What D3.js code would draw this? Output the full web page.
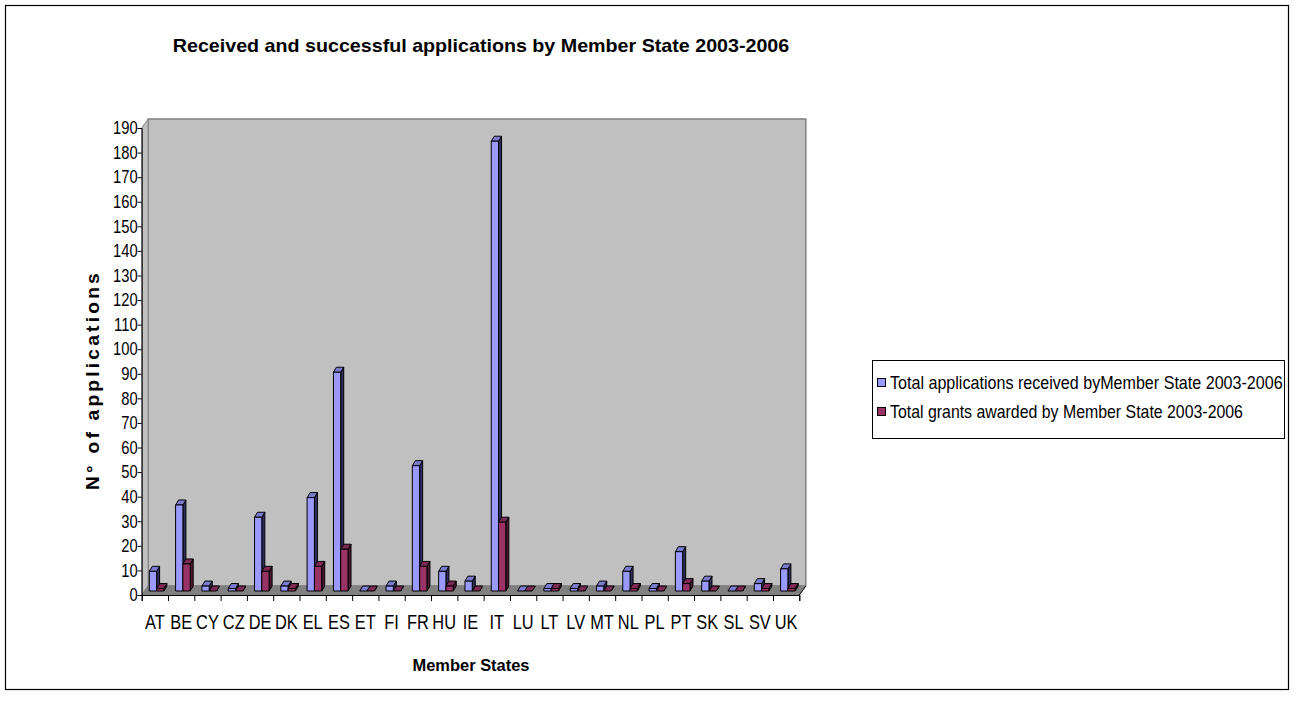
<!DOCTYPE html>
<html>
<head>
<meta charset="utf-8">
<script src="https://cdn.jsdelivr.net/npm/d3@7"></script>
<style>
  body { margin: 0; background: #fff; }
  svg text { font-family: "Liberation Sans", Arial, sans-serif; }
</style>
</head>
<body>
<script>
// ------------------------------------------------------------------
// data
var states   = ["AT","BE","CY","CZ","DE","DK","EL","ES","ET","FI","FR","HU","IE",
                "IT","LU","LT","LV","MT","NL","PL","PT","SK","SL","SV","UK"];
var received = [8, 35, 2, 1, 30, 2, 38, 89, 0, 2, 51, 8, 4,
                183, 0, 1, 1, 2, 8, 1, 16, 4, 0, 3, 9];
var awarded  = [1, 11, 0, 0, 8, 1, 10, 17, 0, 0, 10, 2, 0,
                28, 0, 1, 0, 0, 1, 0, 3, 0, 0, 1, 1];
var yTicks   = d3.range(0, 191, 10);
var seriesNames = ["Total applications received byMember State 2003-2006",
                   "Total grants awarded by Member State 2003-2006"];
// ------------------------------------------------------------------

var W = 1296, H = 711;
var depthX = 6.5, depthY = 9;      // depth of the 3d box
var barDx = 3, barDy = 5;          // depth of each column
var narrow = 0.82;                 // fake "Arial Narrow"

var svg = d3.select("body").append("svg")
    .attr("width", W).attr("height", H);

// text squeezed horizontally, optionally to a given width
function label(x, y, txt, size, bold, anchor, width) {
  var t = svg.append("text")
      .attr("text-anchor", anchor || "start")
      .style("font-size", size + "px")
      .style("font-weight", bold ? "bold" : "normal")
      .text(txt);
  var s = narrow;
  if (width) s = width / t.node().getComputedTextLength();
  t.attr("transform", "translate(" + x + "," + y + ") scale(" + s + ",1)");
  return t;
}

svg.append("rect").attr("x", 5.5).attr("y", 5.5)
    .attr("width", 1283).attr("height", 684)
    .attr("fill", "#fff").attr("stroke", "#000").attr("stroke-width", 1.2);

label(481, 52, "Received and successful applications by Member State 2003-2006", 19, true, "middle", 617);

var plotL = 141.7, plotR = 799.3, plotB = 595, plotT = 128;

var x = d3.scaleBand().domain(states).range([plotL, plotR]);
var y = d3.scaleLinear().domain([0, 190]).range([plotB, plotT]);
var xb = d3.scaleLinear().domain([0, states.length]).range([plotL, plotR]);

// walls and floor
var wallTop = y(190) - depthY;
svg.append("polygon")
    .attr("points", [[plotL + depthX, wallTop], [plotR + depthX, wallTop],
                     [plotR + depthX, plotB - depthY], [plotL + depthX, plotB - depthY]].join(" "))
    .attr("fill", "#c0c0c0").attr("stroke", "#808080").attr("stroke-width", 1.5);
svg.append("polygon")
    .attr("points", [[plotL, y(190)], [plotL + depthX, wallTop],
                     [plotL + depthX, plotB - depthY], [plotL, plotB]].join(" "))
    .attr("fill", "#c0c0c0").attr("stroke", "#808080").attr("stroke-width", 1);
svg.append("polygon")
    .attr("points", [[plotL, plotB], [plotL + depthX, plotB - depthY],
                     [plotR + depthX, plotB - depthY], [plotR, plotB]].join(" "))
    .attr("fill", "#808080").attr("stroke", "#808080");

// columns
var colors = [
  { front: "#9999ff", top: "#7b7bd0", side: "#2e2e5c" },
  { front: "#993366", top: "#7e2a55", side: "#4a1832" }
];
var barW = 7.3;
var baseY = plotB - 4;
function yb(v) { return y(v) - 4; }

var cols = svg.append("g");
states.forEach(function(s, i) {
  [received[i], awarded[i]].forEach(function(v, k) {
    var x0 = x(s) + 7.6 + k * barW, x1 = x0 + barW, yt = yb(v);
    var c = colors[k];
    var g = cols.append("g").attr("stroke", "#000").attr("stroke-width", 1).attr("stroke-linejoin", "round");
    g.append("polygon")
        .attr("points", [[x1, yt], [x1 + barDx, yt - barDy], [x1 + barDx, baseY - barDy], [x1, baseY]].join(" "))
        .attr("fill", c.side);
    g.append("polygon")
        .attr("points", [[x0, yt], [x0 + barDx, yt - barDy], [x1 + barDx, yt - barDy], [x1, yt]].join(" "))
        .attr("fill", c.top);
    g.append("rect").attr("x", x0).attr("y", yt)
        .attr("width", barW).attr("height", baseY - yt)
        .attr("fill", c.front);
  });
});

// axes
var yAxis = svg.append("g").attr("transform", "translate(" + plotL + ",0)")
    .call(d3.axisLeft(y).tickValues(yTicks).tickSize(4).tickPadding(1));
yAxis.selectAll("text").style("font-size", "18px").attr("fill", "#000")
    .attr("transform", "scale(" + narrow + ",1)");
yAxis.selectAll("line, path").attr("stroke", "#000");

var xTicks = svg.append("g").attr("transform", "translate(0," + plotB + ")")
    .call(d3.axisBottom(xb).tickValues(d3.range(0, states.length + 1)).tickSize(6).tickFormat(""));
xTicks.selectAll("line, path").attr("stroke", "#000");
svg.append("line").attr("x1", plotR).attr("y1", plotB)
    .attr("x2", plotR + depthX).attr("y2", plotB - depthY).attr("stroke", "#000");

var xLabels = svg.append("g").attr("transform", "translate(0," + plotB + ")")
    .call(d3.axisBottom(x).tickSize(0).tickPadding(20));
xLabels.select(".domain").remove();
xLabels.selectAll("text").style("font-size", "20px").attr("fill", "#000")
    .attr("transform", "scale(" + narrow + ",1)");

label(471, 671, "Member States", 17, true, "middle", 117);

var yt = svg.append("text")
    .attr("text-anchor", "middle")
    .style("font-size", "18px").style("font-weight", "bold").style("letter-spacing", "3px")
    .text("N° of applications");
yt.attr("transform", "translate(99,380) rotate(-90) scale(" + (220 / yt.node().getComputedTextLength()) + ",1)");

// legend
var lg = svg.append("g");
lg.append("rect").attr("x", 872.5).attr("y", 360.5).attr("width", 412).attr("height", 78)
    .attr("fill", "#fff").attr("stroke", "#000");
seriesNames.forEach(function(n, k) {
  var yy = 383 + k * 29;
  svg.append("rect").attr("x", 877.5).attr("y", yy - 4.5).attr("width", 8).attr("height", 8)
      .attr("fill", colors[k].front).attr("stroke", "#000");
  label(890, yy + 6, n, 18, false, "start", k === 0 ? 393 : 353);
});
</script>
</body>
</html>
